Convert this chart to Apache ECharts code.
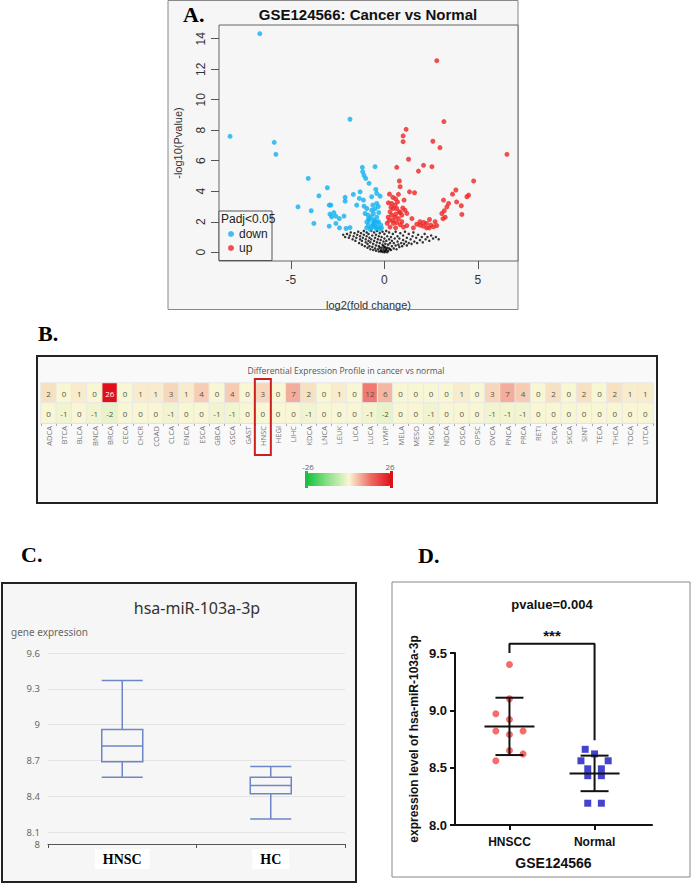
<!DOCTYPE html>
<html>
<head>
<meta charset="utf-8">
<script src="https://cdn.jsdelivr.net/npm/echarts@6/dist/echarts.min.js"></script>
<style>
html, body { margin: 0; padding: 0; background: #fff; }
#main { width: 692px; height: 885px; }
</style>
</head>
<body>
<div id="main"></div>
<script>
// A. volcano plot (log2FC, -log10 p)
let volcanoDown = [
    [-6.66, 14.33], [-8.25, 7.6], [-5.89, 7.21], [-5.8, 6.42], [-1.84, 8.72], [-4.07, 4.84],
    [-3.05, 4.23], [-3.5, 3.7], [-4.62, 2.98], [-3.91, 2.72], [-3.77, 1.89], [-2.95, 3.09],
    [-2.86, 3.09], [-2.91, 2.5], [-2.82, 2.32], [-2.6, 2.37], [-2.41, 2.21], [-2.59, 1.89],
    [-2.95, 1.71], [-2.16, 2.37], [-2.1, 3.6], [-2.1, 3.35], [-2.05, 1.56], [-1.84, 1.62],
    [-1.66, 3.79], [-1.48, 3.09], [-1.3, 3.96], [-1.18, 5.57], [-1.16, 5.28], [-1.09, 5.04],
    [-1.0, 4.84], [-0.82, 4.52], [-0.5, 5.61], [-1.34, 3.53], [-1.12, 3.42], [-1.09, 3.02],
    [-0.94, 2.87], [-1.03, 2.54], [-0.86, 2.43], [-0.8, 2.1], [-0.94, 1.99], [-0.86, 1.78],
    [-0.68, 3.64], [-0.62, 3.09], [-0.68, 2.76], [-0.59, 2.54], [-0.7, 2.3], [-0.54, 2.1],
    [-0.46, 4.12], [-0.41, 3.86], [-0.23, 3.68], [-0.41, 3.2], [-0.33, 3.0], [-0.5, 2.85],
    [-0.41, 2.3], [-0.32, 2.0], [-0.62, 1.85], [-0.5, 1.7], [-0.37, 1.65], [-0.2, 1.8],
    [-0.7, 1.62], [-0.15, 1.6], [-0.95, 1.6], [-0.85, 2.2], [-0.6, 1.75], [-0.3, 2.6],
    [-0.55, 2.0], [-0.45, 1.55], [-0.75, 1.5], [-0.25, 1.5], [-0.4, 1.95], [-2.7, 2.6],
    [-2.4, 1.6]
];
let volcanoUp = [
    [2.8, 12.56], [3.18, 8.57], [1.16, 8.06], [1.0, 7.63], [1.0, 7.25], [2.59, 7.28],
    [2.97, 6.86], [6.55, 6.42], [1.29, 6.1], [0.66, 5.57], [2.09, 5.7], [1.82, 5.32],
    [2.54, 5.61], [0.8, 4.67], [0.84, 4.3], [1.34, 3.96], [1.61, 3.9], [0.27, 3.81],
    [0.45, 3.6], [0.21, 3.24], [0.39, 3.2], [0.57, 3.09], [0.48, 2.87], [0.66, 2.87],
    [0.79, 2.65], [0.3, 2.65], [0.39, 2.43], [0.57, 2.3], [0.75, 2.21], [0.93, 2.43],
    [0.98, 2.9], [1.05, 3.42], [0.27, 2.1], [0.48, 1.9], [0.66, 1.95], [0.93, 2.0],
    [0.3, 1.65], [1.02, 1.65], [1.47, 2.21], [1.73, 1.84], [1.9, 1.78], [2.07, 1.71],
    [2.25, 1.89], [2.41, 2.15], [2.48, 1.78], [2.63, 1.67], [2.71, 2.0], [2.25, 1.6],
    [1.9, 2.0], [3.2, 2.72], [3.34, 2.98], [3.16, 3.42], [3.43, 3.2], [3.07, 2.54],
    [3.25, 2.3], [3.13, 2.2], [3.64, 3.81], [3.82, 4.08], [3.86, 3.3], [4.11, 3.05],
    [4.41, 3.64], [4.5, 3.75], [4.77, 4.67], [4.14, 2.48], [0.6, 3.5], [0.7, 3.3],
    [0.35, 2.95], [0.85, 2.6], [0.6, 2.5], [0.2, 2.3], [0.45, 2.1], [0.85, 1.8],
    [0.15, 1.9], [0.6, 1.6], [1.55, 1.6], [2.1, 1.95], [2.4, 1.6], [2.8, 1.75],
    [1.2, 1.75], [0.75, 3.8], [1.1, 2.76], [1.2, 2.55]
];
let volcanoNs = [
    [-2.2, 1.15], [-2.1, 1.0], [-2.0, 1.2], [-1.9, 0.95], [-1.85, 1.1], [-1.8, 1.3], [-1.7, 0.85],
    [-1.65, 1.05], [-1.6, 1.25], [-1.55, 0.75], [-1.5, 0.95], [-1.45, 1.15], [-1.4, 1.35], [-1.35, 0.6],
    [-1.3, 0.85], [-1.3, 1.05], [-1.25, 1.25], [-1.2, 0.5], [-1.2, 0.75], [-1.15, 0.95], [-1.1, 1.4],
    [-1.1, 1.15], [-1.05, 0.4], [-1.0, 0.65], [-1.0, 0.85], [-0.95, 1.05], [-0.95, 1.3], [-0.9, 0.3],
    [-0.9, 0.55], [-0.85, 0.75], [-0.85, 1.2], [-0.8, 0.95], [-0.8, 0.4], [-0.75, 0.2], [-0.75, 0.65],
    [-0.7, 1.4], [-0.7, 0.85], [-0.65, 0.35], [-0.65, 1.1], [-0.6, 0.15], [-0.6, 0.55], [-0.55, 0.75],
    [-0.55, 1.3], [-0.5, 0.25], [-0.5, 0.95], [-0.45, 0.1], [-0.45, 0.45], [-0.45, 1.15], [-0.4, 0.65],
    [-0.4, 1.4], [-0.35, 0.2], [-0.35, 0.85], [-0.3, 0.05], [-0.3, 0.4], [-0.3, 1.05], [-0.25, 0.6],
    [-0.25, 1.25], [-0.2, 0.15], [-0.2, 0.8], [-0.15, 0.3], [-0.15, 1.0], [-0.1, 0.02], [-0.1, 0.5],
    [-0.1, 1.35], [-0.05, 0.2], [-0.05, 0.7], [0, 0.0], [0, 0.1], [0, 0.35], [0, 0.9], [0, 1.2],
    [0.05, 0.05], [0.05, 0.55], [0.1, 0.15], [0.1, 0.75], [0.1, 1.4], [0.15, 0.3], [0.15, 1.05],
    [0.2, 0.08], [0.2, 0.5], [0.25, 0.25], [0.25, 0.85], [0.25, 1.3], [0.3, 0.6], [0.35, 0.15],
    [0.35, 1.0], [0.4, 0.4], [0.4, 0.75], [0.45, 1.2], [0.5, 0.25], [0.5, 0.6], [0.55, 0.9],
    [0.6, 0.45], [0.6, 1.35], [0.65, 0.2], [0.7, 0.7], [0.7, 1.05], [0.75, 0.5], [0.8, 0.35],
    [0.8, 0.9], [0.85, 1.25], [0.9, 0.6], [0.95, 0.4], [1.0, 0.8], [1.0, 1.1], [1.05, 0.55],
    [1.1, 1.35], [1.15, 0.7], [1.2, 0.45], [1.2, 0.95], [1.3, 0.6], [1.3, 1.2], [1.4, 0.85],
    [1.45, 0.55], [1.5, 1.05], [1.55, 1.3], [1.6, 0.7], [1.7, 0.95], [1.75, 0.6], [1.8, 1.15],
    [1.9, 0.8], [2.0, 1.0], [2.05, 0.65], [2.15, 1.2], [2.2, 0.85], [2.3, 1.0], [2.4, 0.75],
    [2.5, 1.1], [2.6, 0.9], [2.75, 1.0], [2.9, 0.85], [-0.2, 0.05], [0.15, 0.0], [0.1, 0.2],
    [-0.15, 0.1], [0.05, 0.3], [-0.05, 0.4], [0.3, 0.2], [-0.25, 0.3]
];
let volcanoXTicks = [-5, 0, 5];
let volcanoYTicks = [0, 2, 4, 6, 8, 10, 12, 14];

// B. differential expression counts per cancer type
let cancerTypes = ['ADCA', 'BTCA', 'BLCA', 'BNCA', 'BRCA', 'CECA', 'CHCR', 'COAD', 'CLCA', 'ENCA',
    'ESCA', 'GBCA', 'GSCA', 'GAST', 'HNSC', 'HEGI', 'LIHC', 'KDCA', 'LNCA', 'LEUK',
    'LICA', 'LUCA', 'LYMP', 'MELA', 'MESO', 'NSCA', 'NDCA', 'OSCA', 'OPSC', 'OVCA',
    'PNCA', 'PRCA', 'RETI', 'SCRA', 'SKCA', 'SINT', 'TECA', 'THCA', 'TOCA', 'UTCA'];
let upCounts = [2, 0, 1, 0, 26, 0, 1, 1, 3, 1, 4, 0, 4, 0, 3, 0, 7, 2, 0, 1,
    0, 12, 6, 0, 0, 0, 0, 1, 0, 3, 7, 4, 0, 2, 0, 2, 0, 2, 1, 1];
let downCounts = [0, -1, 0, -1, -2, 0, 0, 0, -1, 0, 0, -1, -1, 0, 0, 0, 0, -1, 0, 0,
    0, -1, -2, 0, 0, -1, 0, 0, 0, -1, -1, -1, 0, 0, 0, 0, 0, 0, 0, 0];

// C. boxplot
let boxCategories = ['HNSC', 'HC'];
let boxStats = [
    [8.56, 8.69, 8.82, 8.96, 9.37],
    [8.21, 8.42, 8.49, 8.56, 8.65]
];

// D. dot plot
let dotCategories = ['HNSCC', 'Normal'];
let hnsccX = [1, 1, 0.84, 1, 0.84, 1.16, 1, 1, 1.16, 0.84];
let hnsccY = [9.40, 9.10, 8.97, 8.92, 8.82, 8.82, 8.79, 8.65, 8.62, 8.56];
let normalX = [1.89, 2.0, 1.84, 2.16, 1.92, 2.08, 1.92, 2.08, 1.92, 2.08];
let normalY = [8.66, 8.62, 8.56, 8.56, 8.49, 8.49, 8.43, 8.43, 8.19, 8.19];
let groupMean = [8.86, 8.45];
let groupSd = [0.25, 0.155];
let bracketLine = [[1, 9.5], [1, 9.58], [2, 9.58], [2, 8.74]];

let heatData = [];
for (let i = 0; i < cancerTypes.length; i++) {
    heatData.push({ value: [i, 1, upCounts[i]], label: upCounts[i] > 18 ? { color: '#fff' } : {} });
    heatData.push({ value: [i, 0, downCounts[i]] });
}

function txt(text, x, y, font, fill, align) {
    return {
        type: 'text', z: 50,
        style: {
            text: text, x: x, y: y, font: font, fill: fill || '#000',
            align: align || 'center', textAlign: align || 'center',
            verticalAlign: 'middle', textVerticalAlign: 'middle'
        }
    };
}
function box(x, y, w, h, fill, stroke, lw, z) {
    return {
        type: 'rect', z: z === undefined ? -10 : z,
        shape: { x: x, y: y, width: w, height: h },
        style: { fill: fill, stroke: stroke, lineWidth: lw }
    };
}

let serif = 'bold 22px "Liberation Serif", serif';

let myChart = echarts.init(document.getElementById('main'), null, { renderer: 'svg' });

let option = {
    backgroundColor: '#fff',
    animation: false,
    textStyle: { fontFamily: 'Liberation Sans, Arial, sans-serif' },
    graphic: {
        elements: [
            box(168, 0.5, 350, 309, '#f6f6f6', '#888', 1),
            box(37, 356, 620, 147, '#f9f9f9', '#222', 2),
            box(2, 583, 354, 299, '#f6f6f6', '#222', 2),
            box(392, 582, 298, 295, '#fff', '#888', 1),
            box(219, 211, 53, 49.5, '#f6f6f6', '#555', 1, 3),
            box(305, 471, 3, 17, '#25b84a', null, 0, 20),
            box(390, 471, 3, 17, '#d81414', null, 0, 20),
            txt('A.', 183, 14, serif, '#000', 'left'),
            txt('GSE124566: Cancer vs Normal', 368, 14, 'bold 15px "Liberation Sans", Arial', '#111'),
            txt('Padj<0.05', 221, 219, '12px "Liberation Sans", Arial', '#222', 'left'),
            txt('B.', 38, 333, serif, '#000', 'left'),
            txt('Differential Expression Profile in cancer vs normal', 346, 370, '8.5px "Open Sans", sans-serif', '#555'),
            txt('-26', 308, 466, '8px "Open Sans", sans-serif', '#666'),
            txt('26', 390, 466, '8px "Open Sans", sans-serif', '#666'),
            txt('C.', 21, 554, serif, '#000', 'left'),
            txt('hsa-miR-103a-3p', 197, 608, '16px "Noto Sans", sans-serif', '#333'),
            txt('gene expression', 11, 632, '10px "Noto Sans", sans-serif', '#666', 'left'),
            txt('D.', 418, 555, serif, '#000', 'left'),
            txt('pvalue=0.004', 552, 604, 'bold 13px "Liberation Sans", Arial', '#111'),
            txt('***', 552, 635, 'bold 15px "Liberation Sans", Arial', '#111')
        ]
    },
    legend: {
        data: ['down', 'up'],
        left: 228, top: 228, orient: 'vertical',
        icon: 'circle', itemWidth: 6, itemHeight: 6, itemGap: 2, padding: 0,
        selectedMode: false,
        textStyle: { fontSize: 12, lineHeight: 12, color: '#222', fontFamily: 'Liberation Sans, Arial' }
    },
    visualMap: {
        type: 'continuous', min: -26, max: 26, seriesIndex: 3,
        orient: 'horizontal', left: 307, top: 473, padding: 0,
        itemWidth: 13, itemHeight: 84, calculable: false, hoverLink: false,
        inRange: { color: ['#12c43e', '#8fe08a', '#f9f6d4', '#ef6f68', '#e0101a'] }
    },
    grid: [
        { left: 219, top: 25, right: 174, bottom: 624, show: true, backgroundColor: '#f6f6f6',
          borderColor: '#666', borderWidth: 1, outerBoundsMode: 'none' },
        { left: 41, top: 383, right: 39, bottom: 462, outerBoundsMode: 'none' },
        { left: 48, top: 653, right: 347, bottom: 41, outerBoundsMode: 'none' },
        { left: 455, top: 653, right: 40, bottom: 60, outerBoundsMode: 'none' }
    ],
    xAxis: [
        {
            type: 'value', gridIndex: 0, min: -8.84, max: 7.14,
            name: 'log2(fold change)', nameLocation: 'middle', nameGap: 38,
            nameTextStyle: { fontSize: 11, color: '#333' },
            axisLine: { show: false, onZero: false },
            axisTick: { show: true, length: 8, customValues: volcanoXTicks, lineStyle: { color: '#555' } },
            axisLabel: { customValues: volcanoXTicks, fontSize: 12, color: '#333', margin: 13 },
            splitLine: { show: false }
        },
        {
            type: 'category', gridIndex: 1, data: cancerTypes,
            axisLine: { show: true, lineStyle: { color: '#ccc' } },
            axisTick: { show: true, length: 3, alignWithLabel: false, lineStyle: { color: '#aaa' } },
            axisLabel: { rotate: 90, fontSize: 7.5, color: '#777', margin: 3, interval: 0,
                fontFamily: 'Open Sans, sans-serif' },
            splitLine: { show: false }
        },
        {
            type: 'category', gridIndex: 2, data: boxCategories,
            axisLine: { lineStyle: { color: '#555' } },
            axisTick: { show: true, length: 4, alignWithLabel: false, lineStyle: { color: '#555' } },
            axisLabel: { fontFamily: 'Liberation Serif, serif', fontWeight: 'bold', fontSize: 14,
                color: '#000', backgroundColor: '#fff', padding: [3, 8], margin: 5 }
        },
        {
            type: 'value', gridIndex: 3, min: 0.36, max: 2.675,
            name: 'GSE124566', nameLocation: 'middle', nameGap: 31,
            nameTextStyle: { fontSize: 14, fontWeight: 'bold', color: '#111' },
            axisLine: { onZero: false, lineStyle: { color: '#111', width: 2 } },
            axisTick: { customValues: [1, 2], length: 5, lineStyle: { color: '#111', width: 2 } },
            axisLabel: { customValues: [1, 2], formatter: function (v) { return dotCategories[Math.round(v) - 1]; },
                fontSize: 12, fontWeight: 'bold', color: '#111', margin: 11 },
            splitLine: { show: false }
        }
    ],
    yAxis: [
        {
            type: 'value', gridIndex: 0, min: -0.573, max: 14.9,
            name: '-log10(Pvalue)', nameLocation: 'middle', nameGap: 36,
            nameTextStyle: { fontSize: 11, color: '#333' },
            axisLine: { show: false, onZero: false },
            axisTick: { show: true, length: 8, customValues: volcanoYTicks, lineStyle: { color: '#555' } },
            axisLabel: { customValues: volcanoYTicks, rotate: 90, fontSize: 12, color: '#333', margin: 12 },
            splitLine: { show: false }
        },
        {
            type: 'category', gridIndex: 1, data: ['down', 'up'],
            axisLine: { show: false }, axisTick: { show: false }, axisLabel: { show: false }
        },
        {
            type: 'value', gridIndex: 2, min: 8, max: 9.6,
            axisLine: { show: false }, axisTick: { show: false },
            axisLabel: { color: '#666', fontSize: 9.5, lineHeight: 9, margin: 8, showMinLabel: true,
                showMaxLabel: true, hideOverlap: false, fontFamily: 'Noto Sans, sans-serif' },
            splitLine: { lineStyle: { color: '#e3e3e3' } }
        },
        {
            type: 'value', gridIndex: 3, min: 8, max: 9.5, interval: 0.5,
            name: 'expression level of hsa-miR-103a-3p', nameLocation: 'middle', nameGap: 35,
            nameTextStyle: { fontSize: 12, fontWeight: 'bold', color: '#111' },
            axisLine: { show: true, onZero: false, lineStyle: { color: '#111', width: 2 } },
            axisTick: { show: true, length: 5, lineStyle: { color: '#111', width: 2 } },
            axisLabel: { formatter: function (v) { return v.toFixed(1); }, fontSize: 13,
                fontWeight: 'bold', color: '#111', margin: 8 },
            splitLine: { show: false }
        }
    ],
    series: [
        {
            type: 'scatter', name: 'ns', xAxisIndex: 0, yAxisIndex: 0, data: volcanoNs,
            symbolSize: 2.5, itemStyle: { color: '#000' }, silent: true
        },
        {
            type: 'scatter', name: 'down', xAxisIndex: 0, yAxisIndex: 0, data: volcanoDown,
            symbolSize: 5, itemStyle: { color: '#12b2f0' }, silent: true
        },
        {
            type: 'scatter', name: 'up', xAxisIndex: 0, yAxisIndex: 0, data: volcanoUp,
            symbolSize: 5, itemStyle: { color: '#f02424' }, silent: true
        },
        {
            type: 'heatmap', xAxisIndex: 1, yAxisIndex: 1, data: heatData,
            label: { show: true, fontSize: 8, color: '#555', fontFamily: 'Open Sans, sans-serif' },
            itemStyle: { borderColor: '#e8e8e8', borderWidth: 1 },
            emphasis: { disabled: true }, silent: true
        },
        {
            type: 'boxplot', xAxisIndex: 2, yAxisIndex: 2, data: boxStats, boxWidth: [41, 41],
            itemStyle: { color: 'rgba(0,0,0,0)', borderColor: '#6f86c6', borderWidth: 1.5 },
            silent: true
        },
        {
            type: 'scatter', name: 'HNSCC', xAxisIndex: 3, yAxisIndex: 3,
            data: hnsccX.map(function (x, i) { return [x, hnsccY[i]]; }),
            symbol: 'circle', symbolSize: 7, itemStyle: { color: '#f54646' }, silent: true
        },
        {
            type: 'scatter', name: 'Normal', xAxisIndex: 3, yAxisIndex: 3,
            data: normalX.map(function (x, i) { return [x, normalY[i]]; }),
            symbol: 'rect', symbolSize: 7, itemStyle: { color: '#1414c2' }, silent: true
        },
        {
            type: 'custom', xAxisIndex: 3, yAxisIndex: 3, z: 5, silent: true,
            data: groupMean.map(function (m, i) { return [i + 1, m, groupSd[i]]; }),
            renderItem: function (params, api) {
                let x = api.value(0), m = api.value(1), sd = api.value(2);
                let c = api.coord([x, m]);
                let hi = api.coord([x, m + sd]);
                let lo = api.coord([x, m - sd]);
                let st = { stroke: '#111', lineWidth: 2 };
                return {
                    type: 'group', children: [
                        { type: 'line', shape: { x1: c[0] - 25, y1: c[1], x2: c[0] + 25, y2: c[1] }, style: st },
                        { type: 'line', shape: { x1: hi[0], y1: hi[1], x2: lo[0], y2: lo[1] }, style: st },
                        { type: 'line', shape: { x1: hi[0] - 14, y1: hi[1], x2: hi[0] + 14, y2: hi[1] }, style: st },
                        { type: 'line', shape: { x1: lo[0] - 14, y1: lo[1], x2: lo[0] + 14, y2: lo[1] }, style: st }
                    ]
                };
            }
        },
        {
            type: 'line', xAxisIndex: 3, yAxisIndex: 3, data: bracketLine, clip: false,
            symbol: 'none', lineStyle: { color: '#111', width: 2 }, silent: true
        }
    ]
};

myChart.setOption(option);

// red frame round the HNSC column
let hx = myChart.convertToPixel({ xAxisIndex: 1 }, 'HNSC');
myChart.setOption({
    graphic: {
        elements: [{
            id: 'hnscFrame', type: 'rect', z: 60,
            shape: { x: hx - 8, y: 379, width: 16, height: 76 },
            style: { fill: 'none', stroke: '#cc2020', lineWidth: 2 }
        }]
    }
});
</script>
</body>
</html>
